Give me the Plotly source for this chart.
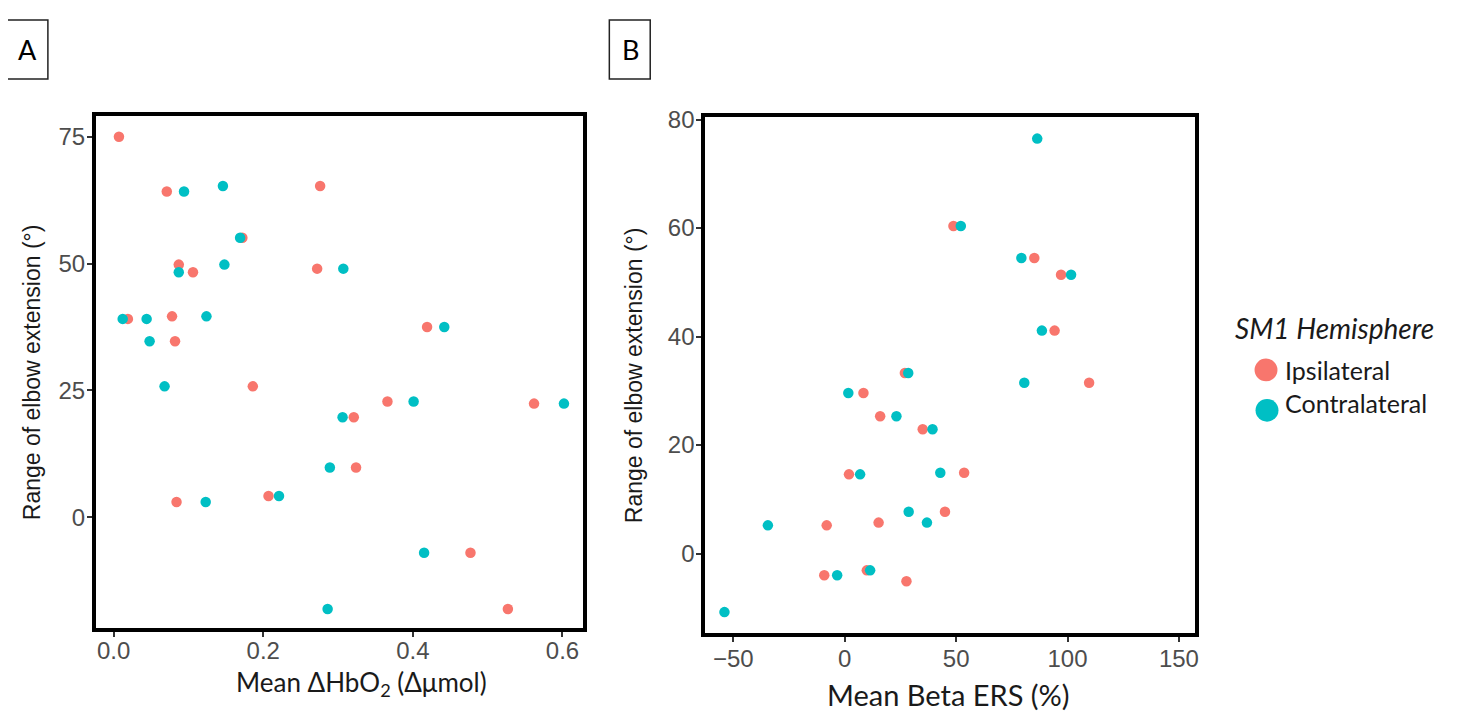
import plotly.graph_objects as go

W, H = 1463, 722
OFF = 8  # browser default body margin around the plot div
FW, FH = W - 2 * OFF, H - 2 * OFF
RED = "#F8766D"
CYAN = "#00BFC4"

# ---------------- Data: Panel A (Mean ΔHbO2 vs range of elbow extension) ----------------
a_ipsi_x = [0.007, 0.071, 0.276, 0.172, 0.087, 0.106, 0.272, 0.019, 0.078, 0.082,
            0.419, 0.186, 0.321, 0.324, 0.084, 0.207, 0.366, 0.562, 0.477, 0.527]
a_ipsi_y = [75.0, 64.2, 65.3, 55.1, 49.8, 48.3, 49.0, 39.1, 39.6, 34.7,
            37.5, 25.8, 19.7, 9.8, 3.0, 4.2, 22.8, 22.4, -7.0, -18.1]
a_contra_x = [0.094, 0.146, 0.169, 0.087, 0.148, 0.307, 0.012, 0.044, 0.124, 0.048,
              0.442, 0.068, 0.306, 0.289, 0.123, 0.221, 0.286, 0.401, 0.602, 0.415]
a_contra_y = [64.2, 65.3, 55.1, 48.3, 49.8, 49.0, 39.1, 39.1, 39.6, 34.7,
              37.5, 25.8, 19.7, 9.8, 3.0, 4.2, -18.1, 22.8, 22.4, -7.0]

# ---------------- Data: Panel B (Mean Beta ERS vs range of elbow extension) ----------------
b_ipsi_x = [48.8, 85.1, 97.1, 94.2, 109.7, 27.0, 8.4, 15.9, 35.0, 1.9,
            53.6, 45.0, 15.2, -8.1, -9.2, 9.9, 27.7]
b_ipsi_y = [60.4, 54.5, 51.4, 41.1, 31.5, 33.3, 29.6, 25.3, 22.9, 14.6,
            14.9, 7.7, 5.7, 5.2, -4.0, -3.1, -5.1]
b_contra_x = [86.4, 52.1, 79.3, 101.6, 88.5, 80.6, 28.5, 1.6, 23.2, 39.4,
              6.9, 42.9, 28.7, 36.9, -34.5, -3.4, 11.4, -54.0]
b_contra_y = [76.5, 60.4, 54.5, 51.4, 41.1, 31.5, 33.3, 29.6, 25.3, 22.9,
              14.6, 14.9, 7.7, 5.7, 5.2, -4.0, -3.1, -10.8]

a_xticks = [0.0, 0.2, 0.4, 0.6]
a_yticks = [0, 25, 50, 75]
b_xticks = [-50, 0, 50, 100, 150]
b_yticks = [0, 20, 40, 60, 80]

series_names = ["Ipsilateral", "Contralateral"]
legend_title = "SM1 Hemisphere"
y_title = "Range of elbow extension (°)"
a_x_title = "Mean ΔHbO<sub>2</sub> (Δμmol)"
b_x_title = "Mean Beta ERS (%)"


def px(x):
    return (x - OFF) / FW


def py(y):
    return 1 - (y - OFF) / FH


fig = go.Figure()
mk = dict(size=10.5, line=dict(width=0))
fig.add_trace(go.Scatter(x=a_ipsi_x, y=a_ipsi_y, mode="markers", marker=dict(color=RED, **mk),
                         xaxis="x", yaxis="y", name=series_names[0], showlegend=False))
fig.add_trace(go.Scatter(x=a_contra_x, y=a_contra_y, mode="markers", marker=dict(color=CYAN, **mk),
                         xaxis="x", yaxis="y", name=series_names[1], showlegend=False))
fig.add_trace(go.Scatter(x=b_ipsi_x, y=b_ipsi_y, mode="markers", marker=dict(color=RED, **mk),
                         xaxis="x2", yaxis="y2", name=series_names[0], showlegend=False))
fig.add_trace(go.Scatter(x=b_contra_x, y=b_contra_y, mode="markers", marker=dict(color=CYAN, **mk),
                         xaxis="x2", yaxis="y2", name=series_names[1], showlegend=False))

tickfont = dict(family="Liberation Sans, Arial", size=24, color="#4D4D4D")
axis_common = dict(showline=True, linecolor="black", linewidth=3.5, mirror=True,
                   showgrid=False, zeroline=False, ticks="outside", ticklen=5,
                   tickwidth=2, tickcolor="#333333", tickfont=tickfont)
ytitle_font = dict(family="Liberation Sans, Arial", size=23, color="#1a1a1a")

fig.update_layout(
    width=FW, height=FH,
    margin=dict(l=0, r=0, t=0, b=0),
    paper_bgcolor="white", plot_bgcolor="white",
    xaxis=dict(domain=[px(96), px(585)], range=[-0.024, 0.628], tickvals=a_xticks,
               ticktext=[f"{v:.1f}" for v in a_xticks], anchor="y",
               ticklabelstandoff=-7, **axis_common),
    yaxis=dict(domain=[py(627), py(107)], range=[-21.9, 79.0], tickvals=a_yticks,
               anchor="x", ticklabelstandoff=-3,
               title=dict(text=y_title, font=ytitle_font, standoff=12),
               **axis_common),
    xaxis2=dict(domain=[px(707), px(1198)], range=[-62.7, 157.1], tickvals=b_xticks,
                anchor="y2", ticklabelstandoff=-4, **axis_common),
    yaxis2=dict(domain=[py(632), py(108)], range=[-14.7, 80.4], tickvals=b_yticks,
                anchor="x2", ticklabelstandoff=-3,
                title=dict(text=y_title, font=ytitle_font, standoff=20),
                **axis_common),
    showlegend=False,
)

annots = [
    dict(x=px(362), y=py(683), text=a_x_title,
         font=dict(family="Lato, Open Sans", size=26, color="#1a1a1a")),
    dict(x=px(951), y=py(694), text=b_x_title,
         font=dict(family="Lato, Open Sans", size=29, color="#1a1a1a")),
    dict(x=px(27.5), y=py(39), text="A", font=dict(family="Lato, Open Sans", size=27, color="black")),
    dict(x=px(632), y=py(39), text="B", font=dict(family="Lato, Open Sans", size=27, color="black")),
    dict(x=px(1338), y=py(322), text=f"<i>{legend_title}</i>",
         font=dict(family="Lato, Open Sans", size=28, color="#1a1a1a")),
    dict(x=px(1287), y=py(365), text=series_names[0], xanchor="left",
         font=dict(family="Lato, Open Sans", size=25, color="#1a1a1a")),
    dict(x=px(1287), y=py(398), text=series_names[1], xanchor="left",
         font=dict(family="Lato, Open Sans", size=25, color="#1a1a1a")),
]
for a in annots:
    a.setdefault("xanchor", "center")
    fig.add_annotation(xref="paper", yref="paper", yanchor="middle", showarrow=False, **a)

shapes = [
    dict(type="rect", x0=px(6), x1=px(48), y0=py(69), y1=py(9), line=dict(color="#222", width=1.5)),
    dict(type="rect", x0=px(611), x1=px(652), y0=py(69), y1=py(9), line=dict(color="#222", width=1.5)),
    dict(type="circle", x0=px(1258), x1=px(1281), y0=py(376), y1=py(353),
         fillcolor=RED, line=dict(width=0)),
    dict(type="circle", x0=px(1259), x1=px(1282), y0=py(417), y1=py(394),
         fillcolor=CYAN, line=dict(width=0)),
]
for s in shapes:
    fig.add_shape(xref="paper", yref="paper", **s)

fig.write_html("out.html")
